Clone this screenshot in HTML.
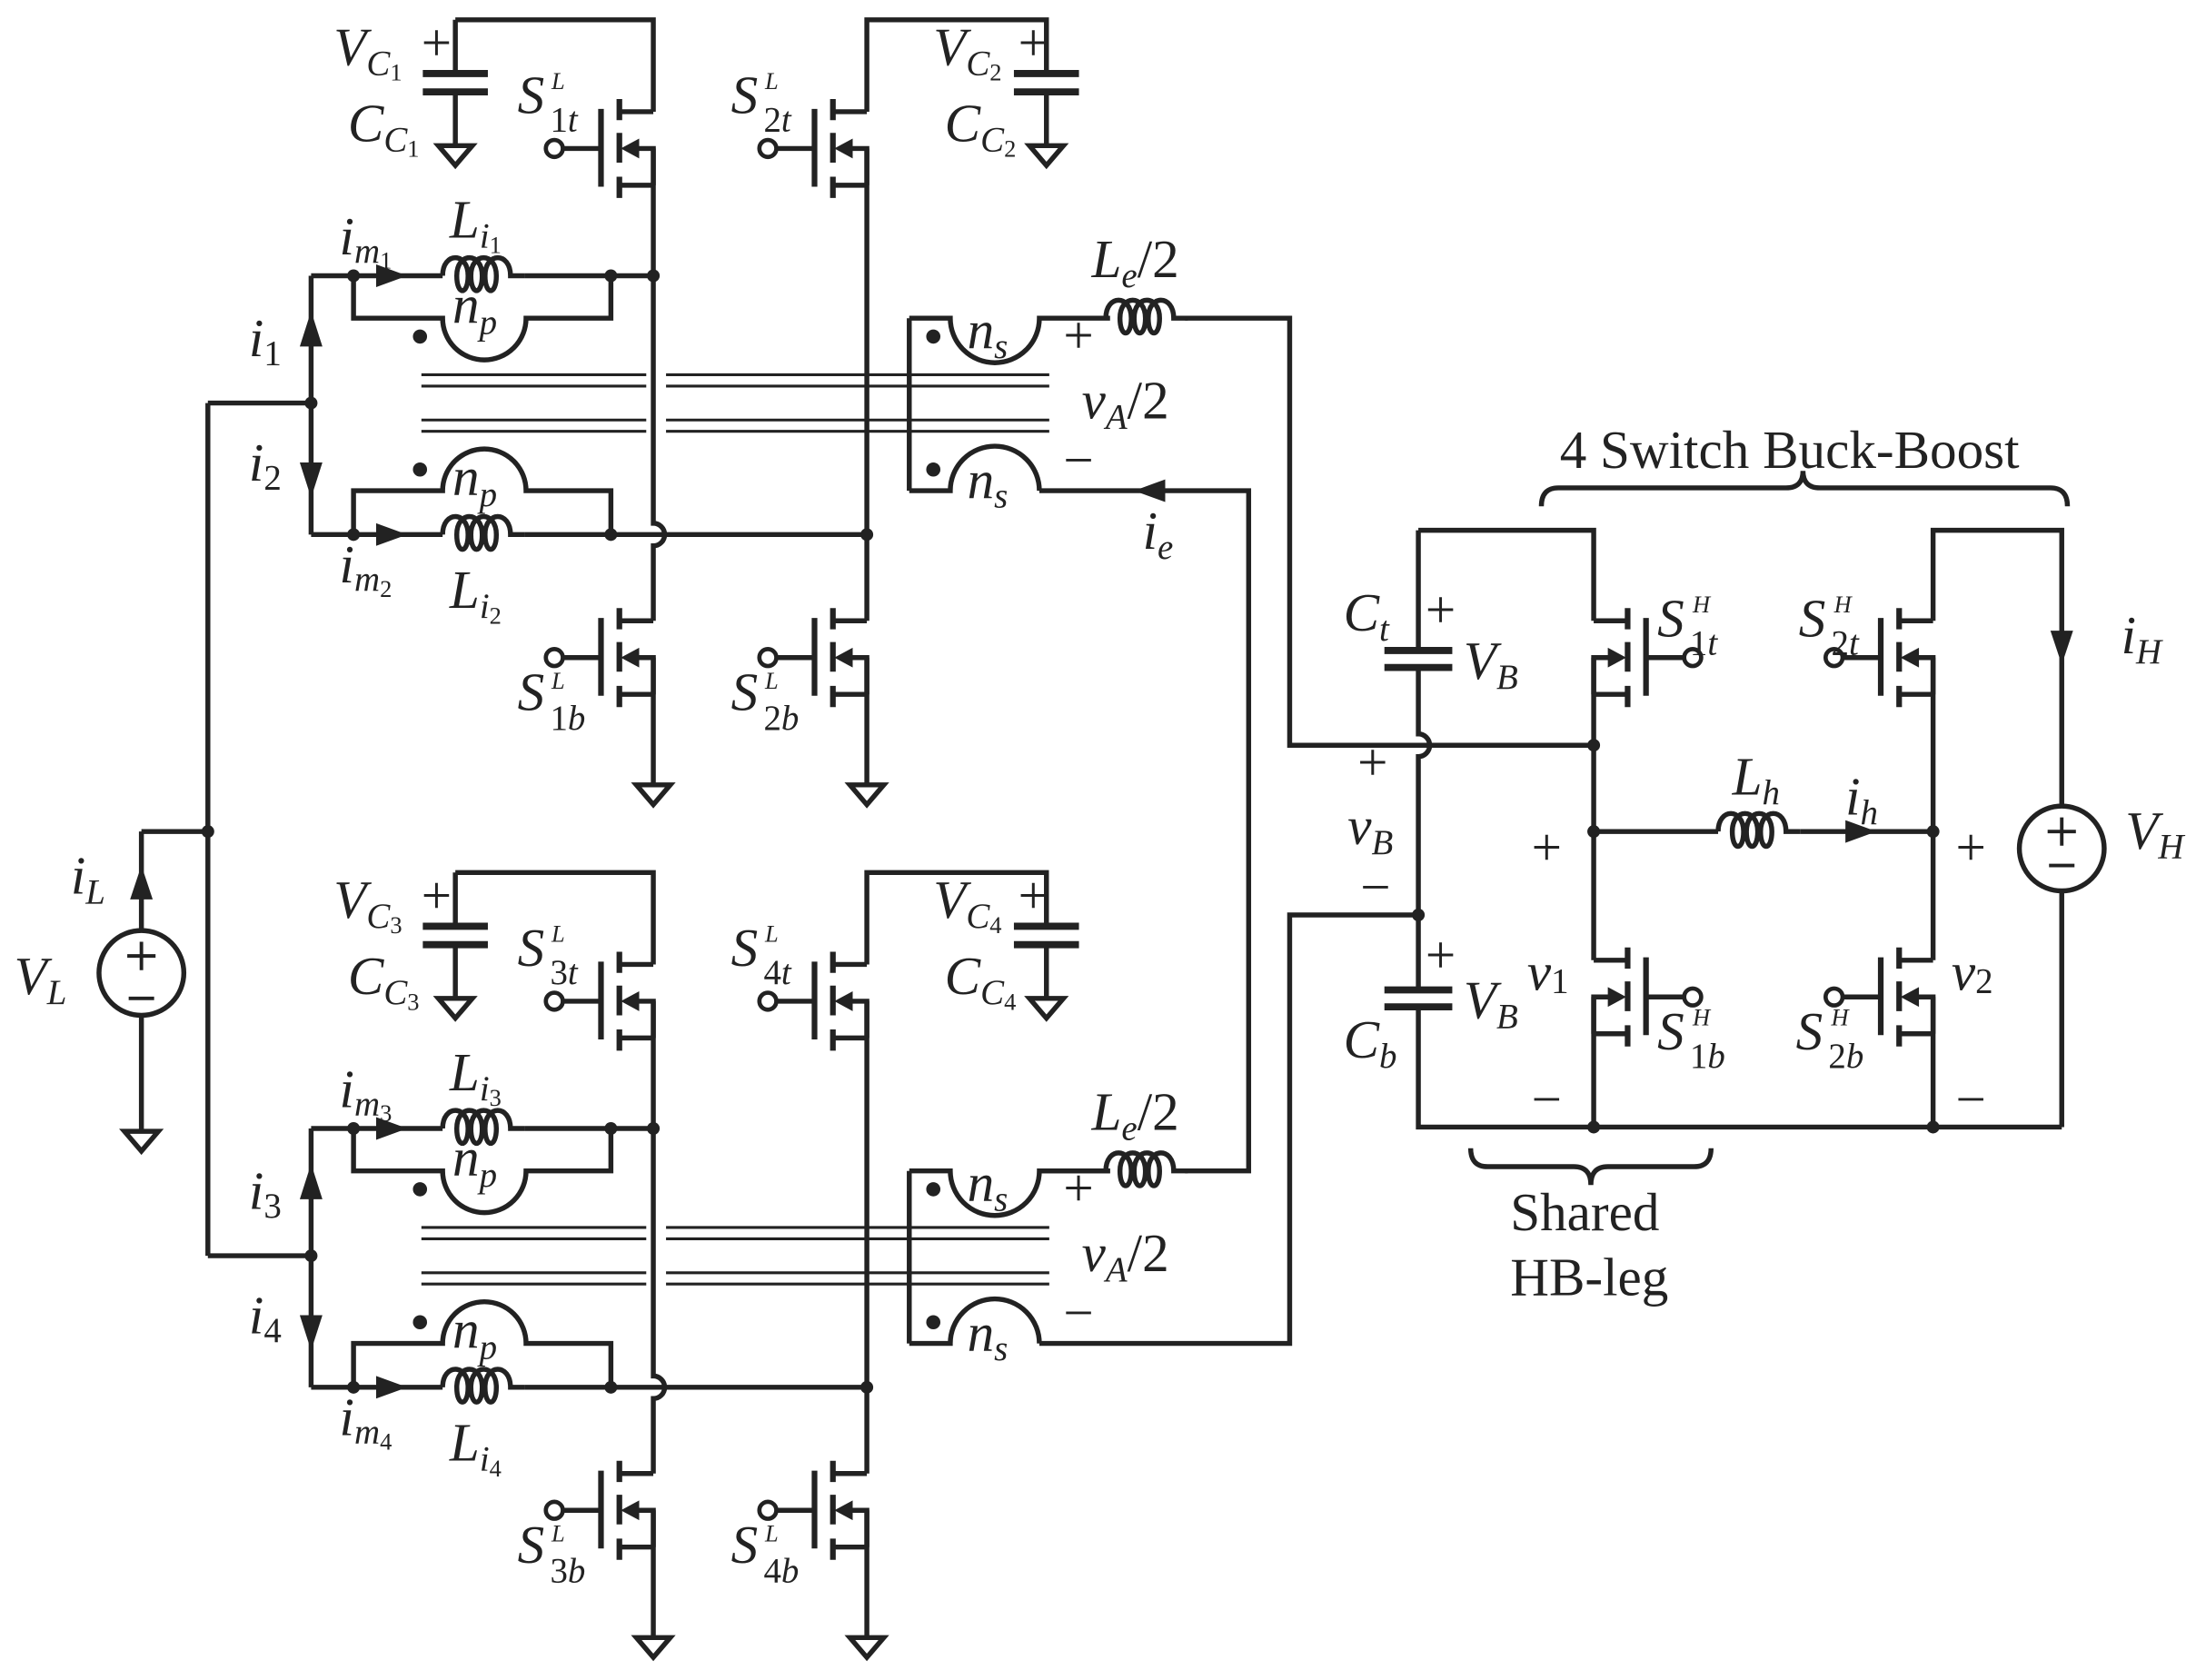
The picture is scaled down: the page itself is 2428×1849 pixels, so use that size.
<!DOCTYPE html>
<html><head><meta charset="utf-8"><style>
html,body{margin:0;padding:0;background:#fff;}
svg{display:block;}
text{font-family:"Liberation Serif",serif;fill:#222;}
.i{font-style:italic;}
.m{font-size:38px;}
.s{font-size:25px;}
.ss{font-size:17px;}
.n{font-style:normal;}
</style></head><body>
<svg width="2428" height="1849" viewBox="0 0 1560 1188" preserveAspectRatio="none" xmlns="http://www.w3.org/2000/svg">
<defs>
<g id="fet" stroke="#222" stroke-width="3.5" fill="none">
  <path d="M-24,-35V-20M-24,-11V10M-24,20V35" stroke-width="4"/>
  <path d="M-37,-28V27" stroke-width="4"/>
  <path d="M-24,-26H0M-24,26H0M-14,0H0V26M-37,0H-64"/>
  <polygon points="-23,0 -10,-7 -10,7" fill="#222" stroke="none"/>
  <circle cx="-70" cy="0" r="6" fill="#fff" stroke-width="3"/>
</g>
<path id="coil" d="M0,0 C0,-17 18,-17 18,0 C18,14 10,14 10,0 C10,-17 28,-17 28,0 C28,14 20,14 20,0 C20,-17 38,-17 38,0 C38,14 30,14 30,0 C30,-17 48,-17 48,0 C48,0 48,0 58,0" stroke="#222" stroke-width="3.5" fill="none"/>
<polygon id="gnd" points="-12,0 12,0 0,14" fill="#fff" stroke="#222" stroke-width="3.5"/>
<g id="half">
  <g stroke="#222" stroke-width="3.5" fill="none">
    <path d="M322,14H462V79M322,14V52M322,65V103"/>
    <path d="M299,52H345M299,65H345" stroke-width="5"/>
    <path d="M613,79V14H740V52M740,65V103"/>
    <path d="M717,52H763M717,65H763" stroke-width="5"/>
    <path d="M462,105V370A8,8 0 0 1 462,386V439M462,465V555"/>
    <path d="M613,105V439M613,465V555"/>
    <path d="M147,285H220M220,195V378M220,195H313M371,195H462M220,378H313M371,378H613"/>
    <path d="M250,195V225H313A29.5,29.5 0 0 0 372,225H432V195"/>
    <path d="M250,378V347H313A29.5,29.5 0 0 1 372,347H432V378"/>
    <path d="M298,265H457M298,273H457M298,297H457M298,305H457M471,265H742M471,273H742M471,297H742M471,305H742" stroke-width="2"/>
    <path d="M643,225V347M643,225H672A31.5,31.5 0 0 0 735,225H785M643,347H672A31.5,31.5 0 0 1 735,347"/>
  </g>
  <use href="#coil" x="313" y="195"/>
  <use href="#coil" x="313" y="378"/>
  <use href="#fet" x="462" y="105"/>
  <use href="#fet" x="613" y="105"/>
  <use href="#fet" x="462" y="465"/>
  <use href="#fet" x="613" y="465"/>
  <use href="#gnd" x="322" y="103"/>
  <use href="#gnd" x="740" y="103"/>
  <use href="#gnd" x="462" y="555"/>
  <use href="#gnd" x="613" y="555"/>
  <g fill="#222">
    <circle cx="220" cy="285" r="4.5"/><circle cx="250" cy="195" r="4.5"/><circle cx="432" cy="195" r="4.5"/><circle cx="462" cy="195" r="4.5"/>
    <circle cx="250" cy="378" r="4.5"/><circle cx="432" cy="378" r="4.5"/><circle cx="613" cy="378" r="4.5"/>
    <circle cx="297" cy="238" r="5"/><circle cx="297" cy="332" r="5"/><circle cx="660" cy="238" r="5"/><circle cx="660" cy="332" r="5"/>
    <polygon points="288,195 266,187 266,203"/>
    <polygon points="288,378 266,370 266,386"/>
    <polygon points="220,220 212,245 228,245"/>
    <polygon points="220,352 212,327 228,327"/>
  </g>
</g>
</defs>

<use href="#half"/>
<use href="#half" y="603"/>

<g stroke="#222" stroke-width="3.5" fill="none">
  <path d="M147,285V888M100,588H147M100,588V658M100,718V800"/>
  <circle cx="100" cy="688" r="30"/>
  <path d="M838,225H912V527H1127"/>
  <path d="M735,828H785M838,828H883V347H735"/>
  <path d="M735,950H912V647H1003"/>
  <path d="M1003,375V460M1003,472V519A8,8 0 0 1 1003,535V700M1003,712V797H1458"/>
  <path d="M979,460H1027M979,472H1027M979,700H1027M979,712H1027" stroke-width="5"/>
  <path d="M1003,375H1127V439M1127,465V679M1127,705V797"/>
  <path d="M1127,588H1215M1273,588H1367"/>
  <path d="M1367,439V375H1458V570M1458,630V797M1367,465V679M1367,705V797"/>
  <circle cx="1458" cy="600" r="30"/>
  <path d="M1090,358Q1090,345 1102,345H1263Q1275,345 1275,333Q1275,345 1287,345H1450Q1462,345 1462,358"/>
  <path d="M1040,812Q1040,825 1052,825H1113Q1125,825 1125,838Q1125,825 1137,825H1198Q1210,825 1210,812"/>
  <path d="M90,676H110M100,666V686M91,706H109M1448,588H1468M1458,578V598M1449,612H1467" stroke-width="2.5"/>
</g>
<use href="#coil" x="782" y="225"/>
<use href="#coil" x="782" y="828"/>
<use href="#coil" x="1215" y="588"/>
<use href="#gnd" x="100" y="800"/>
<use href="#fet" transform="translate(1127,465) scale(-1,1)"/>
<use href="#fet" transform="translate(1127,705) scale(-1,1)"/>
<use href="#fet" x="1367" y="465"/>
<use href="#fet" x="1367" y="705"/>
<g fill="#222">
  <circle cx="147" cy="588" r="4.5"/><circle cx="1127" cy="527" r="4.5"/><circle cx="1127" cy="588" r="4.5"/><circle cx="1367" cy="588" r="4.5"/>
  <circle cx="1003" cy="647" r="4.5"/><circle cx="1127" cy="797" r="4.5"/><circle cx="1367" cy="797" r="4.5"/>
  <polygon points="100,612 92,636 108,636"/>
  <polygon points="802,347 824,339 824,355"/>
  <polygon points="1327,588 1305,580 1305,596"/>
  <polygon points="1458,470 1450,446 1466,446"/>
</g>

<g class="m">
  <!-- top half labels -->
  <text x="236" y="46" class="i">V<tspan class="s" dy="7">C</tspan><tspan class="ss n" dy="4">1</tspan></text>
  <text x="298" y="43" class="n">+</text>
  <text x="246" y="100" class="i">C<tspan class="s" dy="7">C</tspan><tspan class="ss n" dy="4">1</tspan></text>
  <text x="366" y="80" class="i">S</text><text x="390" y="63" class="i ss">L</text><text x="389" y="93" class="s">1<tspan class="i">t</tspan></text>
  <text x="517" y="80" class="i">S</text><text x="541" y="63" class="i ss">L</text><text x="540" y="93" class="s">2<tspan class="i">t</tspan></text>
  <text x="660" y="46" class="i">V<tspan class="s" dy="7">C</tspan><tspan class="ss n" dy="4">2</tspan></text>
  <text x="720" y="43" class="n">+</text>
  <text x="668" y="100" class="i">C<tspan class="s" dy="7">C</tspan><tspan class="ss n" dy="4">2</tspan></text>
  <text x="318" y="168" class="i">L<tspan class="s" dy="7">i</tspan><tspan class="ss n" dy="4">1</tspan></text>
  <text x="240" y="180" class="i">i<tspan class="s" dy="6">m</tspan><tspan class="ss n" dy="4">1</tspan></text>
  <text x="320" y="228" class="i">n<tspan class="s" dy="8">p</tspan></text>
  <text x="176" y="252" class="i">i<tspan class="s n" dy="6">1</tspan></text>
  <text x="176" y="340" class="i">i<tspan class="s n" dy="6">2</tspan></text>
  <text x="320" y="350" class="i">n<tspan class="s" dy="8">p</tspan></text>
  <text x="240" y="412" class="i">i<tspan class="s" dy="6">m</tspan><tspan class="ss n" dy="4">2</tspan></text>
  <text x="318" y="430" class="i">L<tspan class="s" dy="7">i</tspan><tspan class="ss n" dy="4">2</tspan></text>
  <text x="684" y="246" class="i">n<tspan class="s" dy="7">s</tspan></text>
  <text x="684" y="352" class="i">n<tspan class="s" dy="7">s</tspan></text>
  <text x="772" y="196" class="i">L<tspan class="s" dy="7">e</tspan><tspan class="n" dy="-7">/2</tspan></text>
  <text x="752" y="250" class="n">+</text>
  <text x="765" y="296" class="i">v<tspan class="s" dy="7">A</tspan><tspan class="n" dy="-7">/2</tspan></text>
  <text x="752" y="338" class="n">−</text>
  <text x="808" y="388" class="i">i<tspan class="s" dy="7">e</tspan></text>
  <text x="366" y="502" class="i">S</text><text x="390" y="487" class="i ss">L</text><text x="389" y="516" class="s">1<tspan class="i">b</tspan></text>
  <text x="517" y="502" class="i">S</text><text x="541" y="487" class="i ss">L</text><text x="540" y="516" class="s">2<tspan class="i">b</tspan></text>
  <text x="50" y="632" class="i">i<tspan class="s" dy="7">L</tspan></text>
  <text x="10" y="703" class="i">V<tspan class="s" dy="7">L</tspan></text>

  <!-- bottom half labels -->
  <text x="236" y="649" class="i">V<tspan class="s" dy="7">C</tspan><tspan class="ss n" dy="4">3</tspan></text>
  <text x="298" y="646" class="n">+</text>
  <text x="246" y="703" class="i">C<tspan class="s" dy="7">C</tspan><tspan class="ss n" dy="4">3</tspan></text>
  <text x="366" y="683" class="i">S</text><text x="390" y="666" class="i ss">L</text><text x="389" y="696" class="s">3<tspan class="i">t</tspan></text>
  <text x="517" y="683" class="i">S</text><text x="541" y="666" class="i ss">L</text><text x="540" y="696" class="s">4<tspan class="i">t</tspan></text>
  <text x="660" y="649" class="i">V<tspan class="s" dy="7">C</tspan><tspan class="ss n" dy="4">4</tspan></text>
  <text x="720" y="646" class="n">+</text>
  <text x="668" y="703" class="i">C<tspan class="s" dy="7">C</tspan><tspan class="ss n" dy="4">4</tspan></text>
  <text x="318" y="771" class="i">L<tspan class="s" dy="7">i</tspan><tspan class="ss n" dy="4">3</tspan></text>
  <text x="240" y="783" class="i">i<tspan class="s" dy="6">m</tspan><tspan class="ss n" dy="4">3</tspan></text>
  <text x="320" y="831" class="i">n<tspan class="s" dy="8">p</tspan></text>
  <text x="176" y="855" class="i">i<tspan class="s n" dy="6">3</tspan></text>
  <text x="176" y="943" class="i">i<tspan class="s n" dy="6">4</tspan></text>
  <text x="320" y="953" class="i">n<tspan class="s" dy="8">p</tspan></text>
  <text x="240" y="1015" class="i">i<tspan class="s" dy="6">m</tspan><tspan class="ss n" dy="4">4</tspan></text>
  <text x="318" y="1033" class="i">L<tspan class="s" dy="7">i</tspan><tspan class="ss n" dy="4">4</tspan></text>
  <text x="684" y="849" class="i">n<tspan class="s" dy="7">s</tspan></text>
  <text x="684" y="955" class="i">n<tspan class="s" dy="7">s</tspan></text>
  <text x="772" y="799" class="i">L<tspan class="s" dy="7">e</tspan><tspan class="n" dy="-7">/2</tspan></text>
  <text x="752" y="853" class="n">+</text>
  <text x="765" y="899" class="i">v<tspan class="s" dy="7">A</tspan><tspan class="n" dy="-7">/2</tspan></text>
  <text x="752" y="941" class="n">−</text>
  <text x="366" y="1105" class="i">S</text><text x="390" y="1090" class="i ss">L</text><text x="389" y="1119" class="s">3<tspan class="i">b</tspan></text>
  <text x="517" y="1105" class="i">S</text><text x="541" y="1090" class="i ss">L</text><text x="540" y="1119" class="s">4<tspan class="i">b</tspan></text>

  <!-- right side -->
  <text x="1103" y="331">4 Switch Buck-Boost</text>
  <text x="950" y="446" class="i">C<tspan class="s" dy="7">t</tspan></text>
  <text x="1008" y="444" class="n">+</text>
  <text x="1035" y="480" class="i">V<tspan class="s" dy="7">B</tspan></text>
  <text x="960" y="552" class="n">+</text>
  <text x="953" y="597" class="i">v<tspan class="s" dy="7">B</tspan></text>
  <text x="962" y="640" class="n">−</text>
  <text x="1008" y="688" class="n">+</text>
  <text x="950" y="748" class="i">C<tspan class="s" dy="7">b</tspan></text>
  <text x="1035" y="720" class="i">V<tspan class="s" dy="7">B</tspan></text>
  <text x="1080" y="700" class="i">v<tspan class="s n" dy="2">1</tspan></text>
  <text x="1172" y="450" class="i">S</text><text x="1197" y="433" class="i ss">H</text><text x="1195" y="463" class="s">1<tspan class="i">t</tspan></text>
  <text x="1272" y="450" class="i">S</text><text x="1297" y="433" class="i ss">H</text><text x="1295" y="463" class="s">2<tspan class="i">t</tspan></text>
  <text x="1225" y="562" class="i">L<tspan class="s" dy="7">h</tspan></text>
  <text x="1305" y="576" class="i">i<tspan class="s" dy="7">h</tspan></text>
  <text x="1083" y="612" class="n">+</text>
  <text x="1383" y="612" class="n">+</text>
  <text x="1172" y="742" class="i">S</text><text x="1197" y="725" class="i ss">H</text><text x="1195" y="755" class="s">1<tspan class="i">b</tspan></text>
  <text x="1270" y="742" class="i">S</text><text x="1295" y="725" class="i ss">H</text><text x="1293" y="755" class="s">2<tspan class="i">b</tspan></text>
  <text x="1380" y="700" class="i">v<tspan class="s n" dy="2">2</tspan></text>
  <text x="1500" y="462" class="i">i<tspan class="s" dy="7">H</tspan></text>
  <text x="1503" y="600" class="i">V<tspan class="s" dy="7">H</tspan></text>
  <text x="1083" y="790" class="n">−</text>
  <text x="1383" y="790" class="n">−</text>
  <text x="1068" y="870">Shared</text>
  <text x="1068" y="916">HB-leg</text>
</g>
</svg>
</body></html>
